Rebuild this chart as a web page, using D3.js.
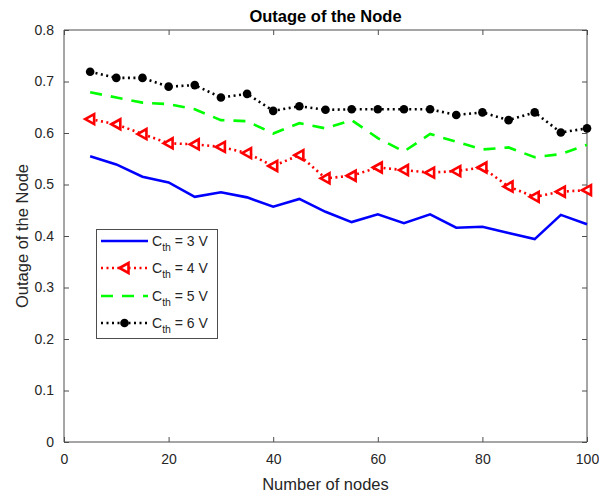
<!DOCTYPE html>
<html><head><meta charset="utf-8">
<script src="https://cdn.jsdelivr.net/npm/d3@7"></script>
<style>body{margin:0;background:#fff;} text{font-family:"Liberation Sans",Arial,sans-serif;}</style>
</head><body>
<svg id="c" width="599" height="497"></svg>
<script>
const nodes = [5,10,15,20,25,30,35,40,45,50,55,60,65,70,75,80,85,90,95,100];
const cth3 = [0.555,0.539,0.515,0.504,0.476,0.485,0.475,0.457,0.472,0.447,0.427,0.442,0.425,0.442,0.416,0.418,0.406,0.394,0.441,0.423];
const cth4 = [0.627,0.617,0.598,0.580,0.578,0.573,0.561,0.536,0.557,0.512,0.517,0.533,0.528,0.523,0.526,0.533,0.496,0.476,0.486,0.489];
const cth5 = [0.679,0.669,0.659,0.656,0.646,0.625,0.623,0.599,0.619,0.609,0.625,0.590,0.564,0.598,0.583,0.568,0.572,0.553,0.559,0.577];
const cth6 = [0.719,0.707,0.707,0.690,0.693,0.669,0.676,0.643,0.652,0.645,0.646,0.646,0.646,0.646,0.635,0.640,0.625,0.640,0.601,0.609];
const xTicks = [0,20,40,60,80,100];
const yTicks = [0,0.1,0.2,0.3,0.4,0.5,0.6,0.7,0.8];
const labels = ["3 V","4 V","5 V","6 V"];

const svg = d3.select("#c");
const L=64,R=587,T=30,B=442;
const x = d3.scaleLinear().domain([0,100]).range([L,R]);
const y = d3.scaleLinear().domain([0,0.8]).range([B,T]);
const axCol="#4d4d4d", txtCol="#262626";

// axes
const gx = svg.append("g").attr("transform",`translate(0,${B})`)
  .call(d3.axisBottom(x).tickValues(xTicks).tickSize(-5).tickPadding(12).tickFormat(d3.format("d")));
const gy = svg.append("g").attr("transform",`translate(${L},0)`)
  .call(d3.axisLeft(y).tickValues(yTicks).tickSize(-5).tickPadding(10).tickFormat(d=>d===0?"0":d3.format(".1f")(d)));
const gx2 = svg.append("g").attr("transform",`translate(0,${T})`)
  .call(d3.axisTop(x).tickValues(xTicks).tickSize(-5).tickFormat(""));
const gy2 = svg.append("g").attr("transform",`translate(${R},0)`)
  .call(d3.axisRight(y).tickValues(yTicks).tickSize(-5).tickFormat(""));
[gx,gy,gx2,gy2].forEach(g=>{
  g.selectAll("path,line").attr("stroke",axCol).attr("stroke-width",1);
  g.selectAll("text").attr("fill",txtCol).style("font-size","14px");
});
gx.select(".domain").attr("d",`M${L},0H${R}`);
gy.select(".domain").attr("d",`M0,${T}V${B}`);
gx2.select(".domain").attr("d",`M${L},0H${R}`);
gy2.select(".domain").attr("d",`M0,${T}V${B}`);

const line = d3.line().x((d,i)=>x(nodes[i])).y(d=>y(d));
const series = [
  {v:cth3,color:"#0000ff",dash:null,marker:null},
  {v:cth4,color:"#ff0000",dash:"2,3.5",marker:"tri"},
  {v:cth5,color:"#00ff00",dash:"12,9",marker:null},
  {v:cth6,color:"#000000",dash:"2,3.5",marker:"dot"}
];
const tri = "M-5,0L4,-5L4,5Z";
function drawMarker(g,s,cx,cy){
  if(s.marker==="tri") g.append("path").attr("d",tri).attr("transform",`translate(${cx},${cy})`)
     .attr("fill","#fff").attr("stroke",s.color).attr("stroke-width",2.6).attr("stroke-linejoin","miter");
  if(s.marker==="dot") g.append("circle").attr("cx",cx).attr("cy",cy).attr("r",4.3).attr("fill","#000");
}
series.forEach(s=>{
  svg.append("path").attr("d",line(s.v)).attr("fill","none").attr("stroke",s.color)
    .attr("stroke-width",2.6).attr("stroke-dasharray",s.dash);
  const g=svg.append("g");
  s.v.forEach((d,i)=>drawMarker(g,s,x(nodes[i]),y(d)));
});

// legend
const lg = svg.append("g");
lg.append("rect").attr("x",96.5).attr("y",229.5).attr("width",121).attr("height",109)
  .attr("fill","#fff").attr("stroke",axCol).attr("stroke-width",1);
const rowY=[241,268,296,323];
series.forEach((s,i)=>{
  const yy=rowY[i];
  lg.append("line").attr("x1",101).attr("x2",148).attr("y1",yy).attr("y2",yy)
    .attr("stroke",s.color).attr("stroke-width",2.6).attr("stroke-dasharray",s.dash);
  drawMarker(lg,s,124.5,yy);
  const t=lg.append("text").attr("x",152).attr("y",yy+5).attr("fill",txtCol).style("font-size","14px");
  t.append("tspan").text("C");
  t.append("tspan").attr("dy",5).style("font-size","10.5px").text("th");
  t.append("tspan").attr("dy",-5).text(" = "+labels[i]);
});

// titles
svg.append("text").attr("x",(L+R)/2).attr("y",22).attr("text-anchor","middle")
  .style("font-size","16.5px").style("font-weight","bold").attr("fill","#000").text("Outage of the Node");
svg.append("text").attr("x",(L+R)/2).attr("y",490).attr("text-anchor","middle")
  .style("font-size","16.5px").attr("fill",txtCol).text("Number of nodes");
svg.append("text").attr("transform",`translate(28,${(T+B)/2}) rotate(-90)`).attr("text-anchor","middle")
  .style("font-size","16.5px").attr("fill",txtCol).text("Outage of the Node");
</script>
</body></html>
